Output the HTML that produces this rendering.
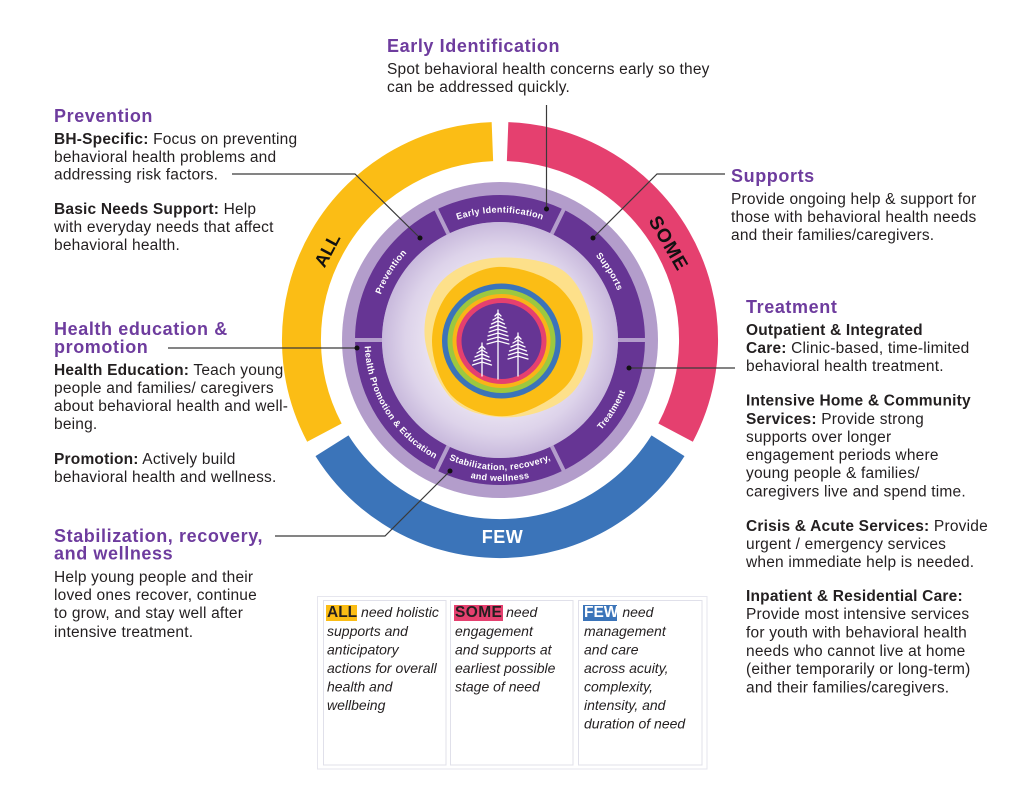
<!DOCTYPE html>
<html><head><meta charset="utf-8">
<style>
html,body{margin:0;padding:0;background:#fff;}
svg{display:block;}
.h{font-family:"Liberation Sans",Arial,sans-serif;font-weight:bold;font-size:18px;fill:#6e3c9e;letter-spacing:0.6px;}
.b{font-family:"Liberation Sans",Arial,sans-serif;font-size:15.5px;fill:#231f20;letter-spacing:0.2px;}
.lg{font-family:"Liberation Sans",Arial,sans-serif;font-size:14px;font-style:italic;fill:#231f20;}
.band{font-family:"Liberation Sans",Arial,sans-serif;font-size:9px;font-weight:bold;fill:#fff;letter-spacing:0.3px;}
.ring{font-family:"Liberation Sans",Arial,sans-serif;font-weight:bold;}
</style></head><body>
<svg width="1024" height="805" viewBox="0 0 1024 805" xmlns="http://www.w3.org/2000/svg">
<defs>
<radialGradient id="lav" cx="500" cy="340" r="118" gradientUnits="userSpaceOnUse">
<stop offset="0" stop-color="#f3eff8"/>
<stop offset="0.55" stop-color="#ece6f3"/>
<stop offset="0.8" stop-color="#ddd3ea"/>
<stop offset="1" stop-color="#c8b9dc"/>
</radialGradient>
<path id="pPrev" d="M 375.77 368.68 A 127.5 127.5 0 0 1 471.32 215.77"/>
<path id="pEarly" d="M 409.85 249.85 A 127.5 127.5 0 0 1 590.15 249.85"/>
<path id="pSupp" d="M 528.68 215.77 A 127.5 127.5 0 0 1 624.23 368.68"/>
<path id="pTreat" d="M 530.48 472.03 A 135.5 135.5 0 0 0 632.03 309.52"/>
<path id="pStab1" d="M 408.08 431.92 A 130 130 0 0 0 591.92 431.92"/>
<path id="pStab2" d="M 400.30 439.70 A 141 141 0 0 0 599.70 439.70"/>
<path id="pHealth" d="M 367.97 309.52 A 135.5 135.5 0 0 0 469.52 472.03"/>
</defs>

<!-- outer ALL / SOME / FEW ring -->
<path d="M 324.4 432.6 A 198.5 198.5 0 0 1 492.4 141.6" fill="none" stroke="#fbbd15" stroke-width="39"/>
<path d="M 507.6 141.6 A 198.5 198.5 0 0 1 675.6 432.6" fill="none" stroke="#e5406f" stroke-width="39"/>
<path d="M 668.0 445.8 A 198.5 198.5 0 0 1 332.0 445.8" fill="none" stroke="#3b74b9" stroke-width="39"/>
<text class="ring" font-size="18" fill="#111" text-anchor="middle" transform="translate(327,250) rotate(-62)" y="6.5">ALL</text>
<text class="ring" font-size="19" fill="#111" text-anchor="middle" letter-spacing="1" transform="translate(669,243) rotate(60)" y="6.8">SOME</text>
<text class="ring" font-size="18" fill="#fff" text-anchor="middle" x="502.5" y="543" letter-spacing="0.5">FEW</text>

<!-- inner disk -->
<circle cx="500" cy="340" r="158" fill="#b39dcb"/>
<circle cx="500" cy="340" r="131.5" fill="none" stroke="#663594" stroke-width="27"/>
<g stroke="#b39dcb" stroke-width="4">
<line x1="449.15" y1="235.74" x2="435.56" y2="207.88"/>
<line x1="550.85" y1="235.74" x2="564.44" y2="207.88"/>
<line x1="616" y1="340" x2="647" y2="340"/>
<line x1="550.85" y1="444.26" x2="564.44" y2="472.12"/>
<line x1="449.15" y1="444.26" x2="435.56" y2="472.12"/>
<line x1="384" y1="340" x2="353" y2="340"/>
</g>
<circle cx="500" cy="340" r="118" fill="url(#lav)"/>

<!-- blobs -->
<path fill="#fde08a" d="M 493 258 C 513.8 256.2 548.3 259.2 565 272 C 581.7 284.8 591.8 314.8 593 335 C 594.2 355.2 585 379.3 572 393 C 559 406.7 534.5 415.5 515 417 C 495.5 418.5 470 414.8 455 402 C 440 389.2 427.5 359.8 425 340 C 422.5 320.2 428.7 296.7 440 283 C 451.3 269.3 472.2 259.8 493 258 Z"/>
<path fill="#fbbd15" d="M 497 267 C 514.5 265.8 540.8 273.5 555 284 C 569.2 294.5 580 313.2 582 330 C 584 346.8 579.5 370.7 567 385 C 554.5 399.3 526.2 414.2 507 416 C 487.8 417.8 464.5 408.7 452 396 C 439.5 383.3 431.7 357.5 432 340 C 432.3 322.5 439.2 303.2 450 291 C 460.8 278.8 479.5 268.2 497 267 Z"/>

<!-- rainbow rings -->
<ellipse cx="501.5" cy="341" rx="59.5" ry="57.5" fill="#3b74b9"/>
<ellipse cx="501.5" cy="341" rx="54" ry="52" fill="#9cc83f"/>
<ellipse cx="501.5" cy="341" rx="49" ry="47" fill="#f9b418"/>
<ellipse cx="501.5" cy="341" rx="45" ry="43" fill="#e5406f"/>
<ellipse cx="501.5" cy="341" rx="40" ry="38" fill="#663594"/>

<!-- trees -->
<g stroke="#fff" stroke-width="1.3" fill="none" stroke-linecap="round">
<line x1="498" y1="310" x2="498" y2="379"/>
<path d="M495 316 L498 313 L501 316 M493 320 L498 317 L503 320 M491.5 324 L498 321 L504.5 324 M490 328 L498 325 L506 328 M489 332 L498 329 L507 332 M488 336 L498 333 L508 336 M487.5 340 L498 337 L508.5 340 M487 344 L498 341 L509 344"/>
<line x1="518" y1="333" x2="518" y2="376"/>
<path d="M515 339 L518 336 L521 339 M513 343 L518 340 L523 343 M511 347 L518 344 L525 347 M509.5 351 L518 348 L526.5 351 M508.5 355 L518 352 L527.5 355 M508 359 L518 356 L528 359"/>
<line x1="482" y1="343" x2="482" y2="376"/>
<path d="M479 349 L482 346 L485 349 M477 353 L482 350 L487 353 M475 357 L482 354 L489 357 M473.5 361 L482 358 L490.5 361 M472.5 365 L482 362 L491.5 365"/>
</g>

<!-- band labels -->
<text class="band" text-anchor="middle"><textPath href="#pPrev" startOffset="50%">Prevention</textPath></text>
<text class="band" text-anchor="middle"><textPath href="#pEarly" startOffset="50%">Early Identification</textPath></text>
<text class="band" text-anchor="middle"><textPath href="#pSupp" startOffset="50%">Supports</textPath></text>
<text class="band" text-anchor="middle"><textPath href="#pTreat" startOffset="50%">Treatment</textPath></text>
<text class="band" text-anchor="middle"><textPath href="#pStab1" startOffset="50%">Stabilization, recovery,</textPath></text>
<text class="band" text-anchor="middle"><textPath href="#pStab2" startOffset="50%">and wellness</textPath></text>
<text class="band" text-anchor="middle"><textPath href="#pHealth" startOffset="50%">Health Promotion &amp; Education</textPath></text>

<!-- connectors -->
<g stroke="#3a3a3a" stroke-width="1.2" fill="none">
<polyline points="232,174 355,174 420,238"/>
<line x1="546.5" y1="105" x2="546.5" y2="209"/>
<polyline points="725,174 657,174 593,238"/>
<line x1="629" y1="368" x2="735" y2="368"/>
<line x1="168" y1="348" x2="357" y2="348"/>
<polyline points="275,536 385,536 450,471"/>
</g>
<g fill="#111">
<circle cx="420" cy="238" r="2.5"/>
<circle cx="546.5" cy="209" r="2.5"/>
<circle cx="593" cy="238" r="2.5"/>
<circle cx="629" cy="368" r="2.5"/>
<circle cx="357" cy="348" r="2.5"/>
<circle cx="450" cy="471" r="2.5"/>
</g>

<!-- Prevention -->
<text class="h" x="54" y="122">Prevention</text>
<text class="b">
<tspan x="54" y="144"><tspan font-weight="bold">BH-Specific:</tspan> Focus on preventing</tspan>
<tspan x="54" y="162">behavioral health problems and</tspan>
<tspan x="54" y="179.5">addressing risk factors.</tspan>
<tspan x="54" y="214"><tspan font-weight="bold">Basic Needs Support:</tspan> Help</tspan>
<tspan x="54" y="232">with everyday needs that affect</tspan>
<tspan x="54" y="250">behavioral health.</tspan>
</text>

<!-- Early Identification -->
<text class="h" x="387" y="52">Early Identification</text>
<text class="b">
<tspan x="387" y="74">Spot behavioral health concerns early so they</tspan>
<tspan x="387" y="92">can be addressed quickly.</tspan>
</text>

<!-- Supports -->
<text class="h" x="731" y="182">Supports</text>
<text class="b">
<tspan x="731" y="204">Provide ongoing help &amp; support for</tspan>
<tspan x="731" y="222">those with behavioral health needs</tspan>
<tspan x="731" y="240">and their families/caregivers.</tspan>
</text>

<!-- Treatment -->
<text class="h" x="746" y="313">Treatment</text>
<text class="b">
<tspan x="746" y="335" font-weight="bold">Outpatient &amp; Integrated</tspan>
<tspan x="746" y="353"><tspan font-weight="bold">Care:</tspan> Clinic-based, time-limited</tspan>
<tspan x="746" y="371">behavioral health treatment.</tspan>
<tspan x="746" y="405.5" font-weight="bold">Intensive Home &amp; Community</tspan>
<tspan x="746" y="424"><tspan font-weight="bold">Services:</tspan> Provide strong</tspan>
<tspan x="746" y="442">supports over longer</tspan>
<tspan x="746" y="460">engagement periods where</tspan>
<tspan x="746" y="478">young people &amp; families/</tspan>
<tspan x="746" y="496.5">caregivers live and spend time.</tspan>
<tspan x="746" y="531"><tspan font-weight="bold">Crisis &amp; Acute Services:</tspan> Provide</tspan>
<tspan x="746" y="549">urgent / emergency services</tspan>
<tspan x="746" y="567">when immediate help is needed.</tspan>
<tspan x="746" y="601" font-weight="bold">Inpatient &amp; Residential Care:</tspan>
<tspan x="746" y="619">Provide most intensive services</tspan>
<tspan x="746" y="637.5">for youth with behavioral health</tspan>
<tspan x="746" y="656">needs who cannot live at home</tspan>
<tspan x="746" y="674">(either temporarily or long-term)</tspan>
<tspan x="746" y="692.5">and their families/caregivers.</tspan>
</text>

<!-- Health education & promotion -->
<text class="h"><tspan x="54" y="335">Health education &amp;</tspan><tspan x="54" y="353">promotion</tspan></text>
<text class="b">
<tspan x="54" y="375"><tspan font-weight="bold">Health Education:</tspan> Teach young</tspan>
<tspan x="54" y="393">people and families/ caregivers</tspan>
<tspan x="54" y="411">about behavioral health and well-</tspan>
<tspan x="54" y="429">being.</tspan>
<tspan x="54" y="464"><tspan font-weight="bold">Promotion:</tspan> Actively build</tspan>
<tspan x="54" y="482">behavioral health and wellness.</tspan>
</text>

<!-- Stabilization -->
<text class="h"><tspan x="54" y="542">Stabilization, recovery,</tspan><tspan x="54" y="559.5">and wellness</tspan></text>
<text class="b">
<tspan x="54" y="582">Help young people and their</tspan>
<tspan x="54" y="600">loved ones recover, continue</tspan>
<tspan x="54" y="618">to grow, and stay well after</tspan>
<tspan x="54" y="637">intensive treatment.</tspan>
</text>

<!-- legend -->
<rect x="317.5" y="596.5" width="389.5" height="172.5" fill="#fff" stroke="#e6e6ee" stroke-width="1"/>
<g fill="none" stroke="#e0e0ea" stroke-width="1">
<rect x="323.5" y="600.5" width="122.5" height="164.5"/>
<rect x="450.5" y="600.5" width="122.5" height="164.5"/>
<rect x="578.5" y="600.5" width="123.5" height="164.5"/>
</g>
<rect x="326" y="605" width="31" height="16" fill="#fbbd15"/>
<rect x="454" y="605" width="49" height="16" fill="#e5406f"/>
<rect x="583" y="605" width="34" height="16" fill="#3b74b9"/>
<text class="lg">
<tspan x="327" y="617"><tspan font-weight="bold" font-style="normal" font-size="15.5">ALL</tspan> need holistic</tspan>
<tspan x="327" y="636">supports and</tspan>
<tspan x="327" y="654.5">anticipatory</tspan>
<tspan x="327" y="673">actions for overall</tspan>
<tspan x="327" y="691.5">health and</tspan>
<tspan x="327" y="710">wellbeing</tspan>
</text>
<text class="lg">
<tspan x="455" y="617"><tspan font-weight="bold" font-style="normal" font-size="15.5" letter-spacing="0.4">SOME</tspan> need</tspan>
<tspan x="455" y="636">engagement</tspan>
<tspan x="455" y="654.5">and supports at</tspan>
<tspan x="455" y="673">earliest possible</tspan>
<tspan x="455" y="691.5">stage of need</tspan>
</text>
<text class="lg">
<tspan x="584" y="617"><tspan font-weight="bold" font-style="normal" font-size="15.5" fill="#fff">FEW</tspan> need</tspan>
<tspan x="584" y="636">management</tspan>
<tspan x="584" y="654.5">and care</tspan>
<tspan x="584" y="673">across acuity,</tspan>
<tspan x="584" y="691.5">complexity,</tspan>
<tspan x="584" y="710">intensity, and</tspan>
<tspan x="584" y="728.5">duration of need</tspan>
</text>
</svg>
</body></html>
